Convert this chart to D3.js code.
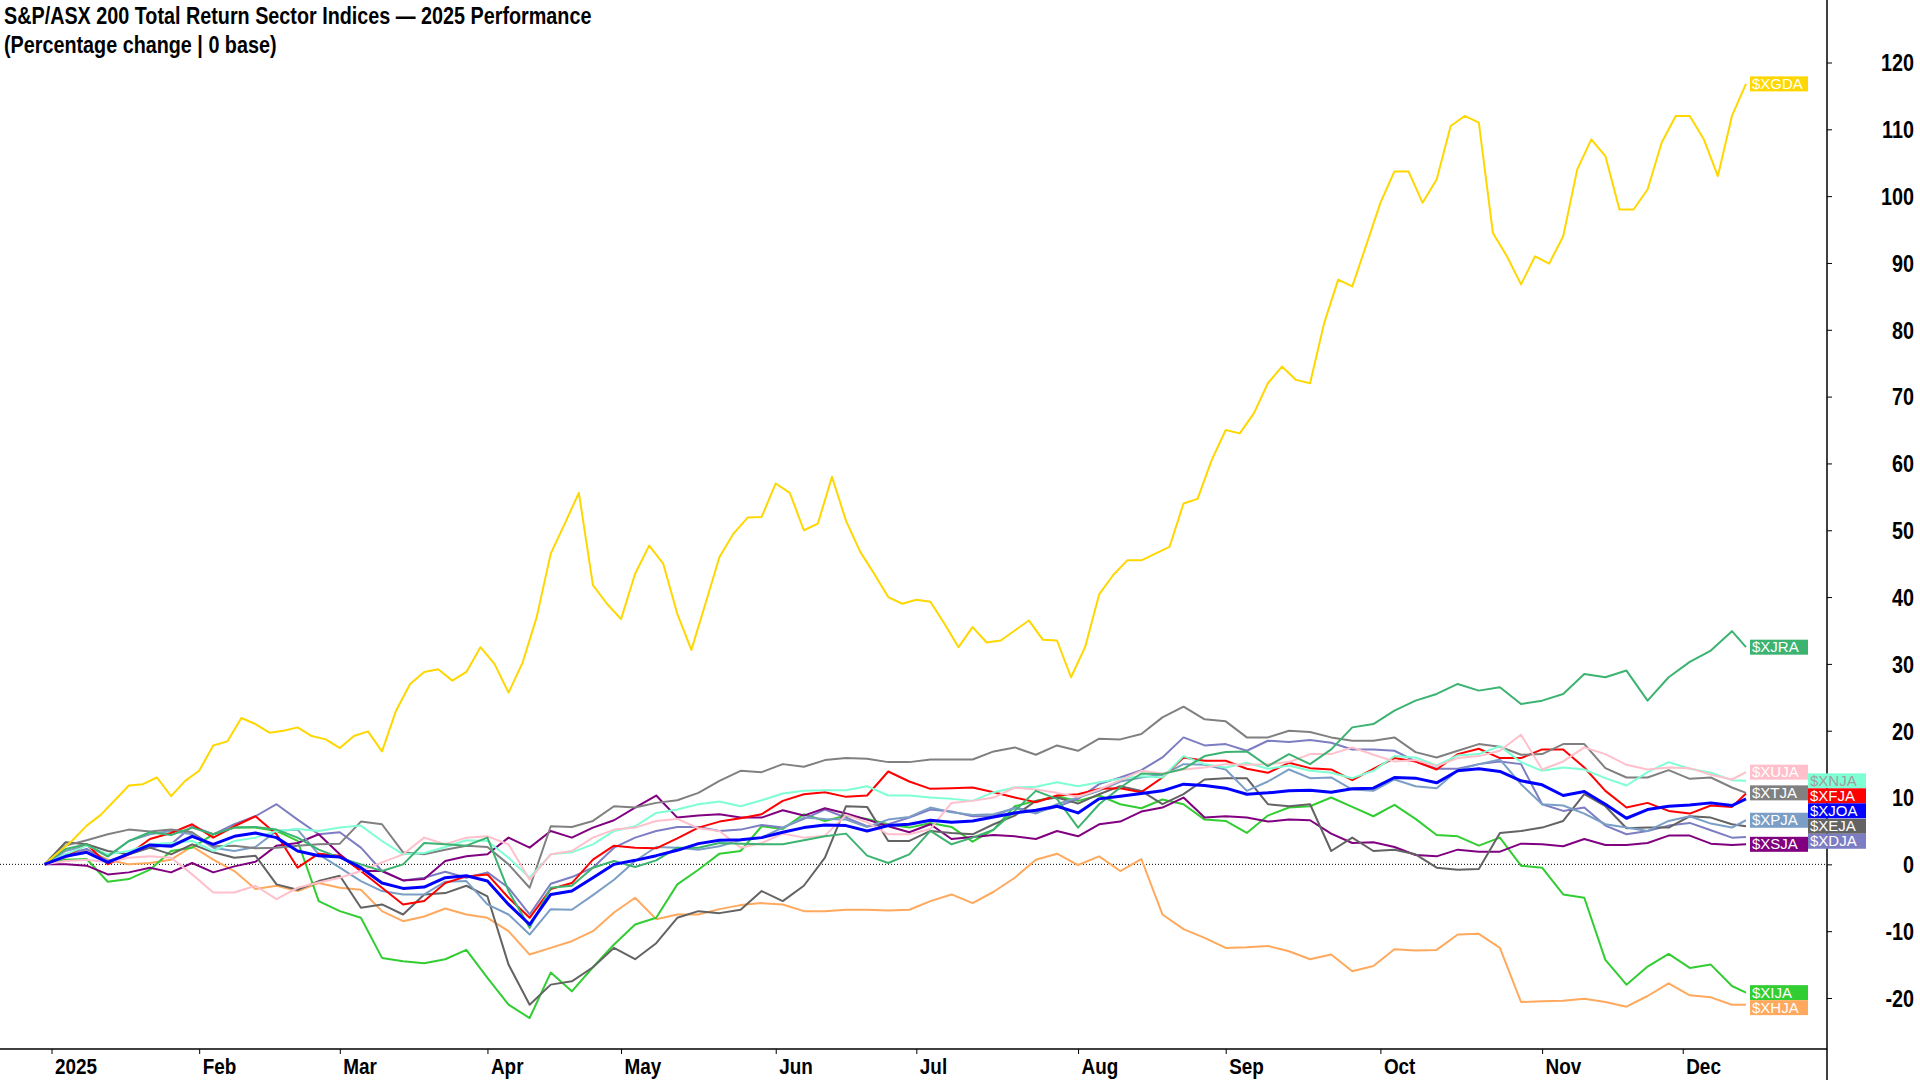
<!DOCTYPE html>
<html>
<head>
<meta charset="utf-8">
<script src="https://cdn.jsdelivr.net/npm/d3@7"></script>
<style>
  html, body { margin: 0; padding: 0; background: #fff; }
  svg { display: block; }
  text { font-family: "Liberation Sans", Arial, sans-serif; }
</style>
</head>
<body>
<svg id="chart" width="1920" height="1080"></svg>
<script>
// trading calendar (asx), day 0 is the base day
const firstDay = "2024-12-31";
const lastDay = "2025-12-12";
const asxHolidays = ["2025-01-01", "2025-01-27", "2025-04-18", "2025-04-21", "2025-04-25", "2025-06-09"];

const monthLabels = ["2025", "Feb", "Mar", "Apr", "May", "Jun", "Jul", "Aug", "Sep", "Oct", "Nov", "Dec"];
const yTicks = [-20, -10, 0, 10, 20, 30, 40, 50, 60, 70, 80, 90, 100, 110, 120];

const titleLines = ["S&P/ASX 200 Total Return Sector Indices \u2014 2025 Performance", "(Percentage change | 0 base)"];

// symbols in the order the labels get placed
const symbols = ["$XGDA", "$XJRA", "$XUJA", "$XNJA", "$XTJA", "$XFJA", "$XJOA", "$XPJA", "$XEJA", "$XSJA", "$XDJA", "$XIJA", "$XHJA"];
const colors = ["#ffd700", "#3cb371", "#ffc0cb", "#7fffd4", "#808080", "#ff0000", "#0000ff", "#7a9ec6", "#636363", "#800080", "#7d7dc3", "#32cd32", "#ffa95e"];

// gold is read every 2 trading days, the sectors every 3 (last value = last day)
const goldStep = 2;
const sectorStep = 3;

const XGDA = [
  0, 1.8, 3.6, 5.8, 7.4, 9.6, 11.8, 12, 13, 10.2,
  12.5, 14, 17.8, 18.4, 21.9, 21, 19.7, 20, 20.5, 19.2,
  18.7, 17.4, 19.2, 19.9, 16.9, 23, 27, 28.8, 29.2, 27.5,
  28.8, 32.5, 30, 25.7, 30.2, 37, 46.5, 51, 55.6, 41.8,
  39, 36.7, 43.5, 47.7, 45, 37.5, 32.1, 39, 46, 49.5,
  51.9, 52, 57, 55.6, 50, 51, 58, 51.4, 46.8, 43.5,
  40, 39, 39.6, 39.3, 36, 32.5, 35.5, 33.2, 33.5, 35,
  36.5, 33.6, 33.5, 28, 32.5, 40.4, 43.3, 45.5, 45.5, 46.5,
  47.5, 54, 54.7, 60.5, 65, 64.5, 67.5, 72, 74.5, 72.5,
  72, 81, 87.5, 86.5, 92.7, 99, 103.7, 103.7, 99, 102.5,
  110.5, 112, 111, 94.5, 91, 86.8, 91, 89.9, 94, 104,
  108.5, 106, 98, 98, 101, 108, 112, 112, 108.5, 103,
  112, 116.8
];

const XJRA = [
  0, 2.3, 3, 1.2, 3.5, 4.8, 4.4, 5.5, 4.5, 5.5,
  5.6, 5.2, 4, 2.2, 1, 0, -1, 0, 3.2, 3,
  2.8, 4, -4, -9.5, -3.5, -3.2, -0.5, 0.5, -0.4, 0.6,
  2.5, 2.5, 3.2, 3.1, 3, 3, 3.6, 4.2, 4.6, 1.3,
  0.2, 1.5, 5, 3, 4, 5.2, 8, 11, 9.8, 5.5,
  9, 11.5, 13.6, 13.5, 14.3, 16.2, 16.8, 16.9, 14.7, 16.5,
  15, 17.2, 20.5, 21, 23, 24.5, 25.5, 27, 26, 26.5,
  24, 24.5, 25.5, 28.5, 28, 29, 24.5, 28, 30.3, 32,
  34.9, 32.5
];

const XUJA = [
  0, 0.5, 0.7, 0.3, 1, 1.2, 1, -1.5, -4.2, -4.2,
  -3.2, -5.2, -3.5, -2.7, -2, -1, 0.3, 1.5, 4, 3,
  4, 4.2, 3, -2.3, 1.5, 2, 4, 5.2, 5.5, 6.5,
  6.8, 5.4, 5, 2.5, 3.2, 4.6, 4, 4.3, 7.4, 6.3,
  4.5, 4.5, 5.3, 9.2, 9.5, 10, 11.5, 11.2, 10.7, 10.1,
  11.2, 12.6, 14, 13.6, 14.2, 14.5, 15, 14.9, 15, 15.3,
  16.5, 16.5, 17.5, 16.4, 15.4, 15.6, 14.7, 15.9, 16.2, 17,
  19.4, 14.2, 15.4, 17.5, 16.5, 14.9, 14.2, 14.5, 14.4, 13.4,
  12.7, 13.8
];

const XNJA = [
  0, 1.5, 2.8, 1.5, 2, 3, 3.2, 3.5, 2, 3.5,
  4, 5, 5.3, 5, 5.5, 5.8, 3.5, 1.5, 1.7, 2.6,
  3.6, 3.5, 1, -2, 1.5, 1.8, 3, 5, 5.7, 7.7,
  8.2, 9, 9.4, 8.7, 9.6, 10.6, 11, 11.1, 11.1, 11.7,
  10.3, 10.3, 10, 9.8, 9.5, 10.8, 11.5, 11.6, 12.3, 11.7,
  12.3, 12.8, 13.2, 13, 16.2, 15, 14.5, 15.2, 14.3, 14.8,
  14, 13.7, 12.9, 14, 16.2, 16, 14.8, 16.3, 16.5, 17.7,
  15.3, 14, 14.5, 14.2, 12.9, 11.8, 13.8, 15.3, 14.3, 13.7,
  12.6, 12.5
];

const XTJA = [
  0, 2.8, 3.6, 4.5, 5.2, 4.9, 5.2, 4.8, 2.7, 2.8,
  2.4, 2.5, 2.8, 3, 3.1, 6.4, 6, 1.8, 1.5, 2.2,
  2.8, 2.6, 0, -3.5, 5.7, 5.6, 6.5, 8.7, 8.5, 9.2,
  9.6, 10.7, 12.5, 14, 13.8, 15, 14.6, 15.6, 15.9, 15.8,
  15.3, 15.3, 15.7, 15.7, 15.7, 16.9, 17.5, 16.4, 17.8, 17,
  18.8, 18.7, 19.5, 22, 23.6, 21.7, 21.4, 19, 19, 20,
  19.8, 19, 18.5, 18.5, 19, 16.8, 16, 17, 18, 17.6,
  16.4, 16.5, 18, 18, 14.4, 13, 13, 14.1, 12.8, 13,
  11.5, 10.7
];

const XFJA = [
  0, 1.2, 3, 0, 1.5, 3.8, 4.7, 6, 4, 5.7,
  7.2, 4.5, -0.5, 1.6, 1.3, -1, -3.5, -6, -5.5, -2.8,
  -1.8, -1.5, -5, -8, -3.7, -2.8, 0.7, 2.8, 2.5, 2.4,
  3.9, 5.5, 6.4, 6.9, 7.5, 9.5, 10.5, 10.8, 10.1, 10.3,
  13.9, 12.4, 11.3, 11.4, 11.5, 10.8, 10, 9.3, 10.3, 10.5,
  11.3, 11.4, 10.8, 13, 16, 15.5, 15.5, 14.3, 13.7, 15.2,
  14.4, 14.2, 12.6, 14.3, 15.9, 15.4, 14.2, 16.5, 17.3, 15.9,
  15.9, 17.2, 17.2, 14.5, 11, 8.5, 9.2, 8, 7.6, 8.8,
  8.6, 10.6
];

const XJOA = [
  0, 1.2, 1.8, 0.3, 1.6, 2.9, 2.7, 4.2, 3, 4.2,
  4.7, 4, 2, 1.3, 1.1, -0.5, -2.8, -3.6, -3.4, -2,
  -1.7, -2.5, -6, -9, -4.5, -4, -2, 0, 0.6, 1.3,
  2.1, 3.1, 3.6, 3.7, 4, 4.8, 5.5, 5.9, 5.8, 5,
  5.8, 6, 6.6, 6.3, 6.5, 7.1, 7.7, 8.1, 8.7, 7.7,
  9.8, 10.2, 10.6, 11, 12, 11.8, 11.4, 10.5, 10.7, 11,
  11.1, 10.8, 11.3, 11.4, 13, 12.9, 12.2, 14, 14.3, 13.9,
  12.5, 11.9, 10.3, 10.9, 9, 6.9, 8.2, 8.7, 8.9, 9.2,
  8.8, 9.8
];

const XPJA = [
  0, 2, 2.8, 1.2, 3.5, 4.5, 5, 4.5, 2.5, 2,
  2.6, 5, 5.2, 1.5, -0.5, -2.5, -4, -4.5, -4.5, -2.6,
  -2.5, -6, -7.5, -10.5, -6.7, -6.8, -4.6, -2.3, 0.5, 2.6,
  2.5, 2.2, 2.7, 3.6, 4, 5.5, 7, 6.8, 6.7, 5.6,
  6.7, 7.1, 8.5, 7.8, 7.4, 7.5, 8.4, 7.6, 9, 10,
  11, 12.4, 13, 13.4, 15, 14.9, 14.2, 11, 12.4, 14.2,
  12.9, 13, 11.2, 11, 12.7, 11.7, 11.4, 14.1, 15, 15.7,
  12, 9, 8.8, 7.6, 6, 5.5, 5, 6.5, 7.2, 6.1,
  5.5, 6.6
];

const XEJA = [
  0, 3.3, 3, 2, 1.5, 2.5, 1.5, 3, 1.8, 1,
  1.3, -3, -3.8, -2.5, -1.7, -6.5, -6, -7.5, -4.5, -4.3,
  -3.2, -4.8, -15, -21, -18, -17.5, -15.4, -12.5, -14.2, -11.8,
  -8, -7, -7.3, -6.8, -4, -5.5, -3.2, 1, 8.7, 8.6,
  3.5, 3.5, 5, 4.7, 4.5, 6, 7.3, 9.5, 10, 9.1,
  10.5, 11.7, 11, 9, 10.5, 12.7, 12.9, 12.9, 9, 8.7,
  9, 2, 4, 2, 2.2, 1.5, -0.5, -0.8, -0.7, 4.7,
  5, 5.5, 6.5, 10.5, 8.7, 5.4, 5.5, 5.5, 7.2, 7,
  6, 5.7
];

const XSJA = [
  0, 0, -0.2, -1.5, -1.2, -0.5, -1.2, 0.2, -1.2, -0.3,
  0.4, 2.8, 3.2, 4.5, 1.5, -1, -1, -2.4, -2.2, 0.5,
  1.2, 1.5, 4, 2.5, 5, 4, 5.5, 6.6, 8.5, 10.3,
  7, 7.3, 7.5, 7, 7, 8.1, 7.3, 8.4, 7.6, 6.7,
  5.7, 4.8, 6, 3.8, 4.1, 4.4, 4.2, 3.8, 5, 4.2,
  6, 6.4, 7.9, 8.5, 10, 7, 7.2, 7, 6.4, 6.7,
  6.6, 4.6, 3.2, 3.3, 2.6, 1.4, 1.2, 2.2, 1.9, 1.9,
  3.1, 3, 2.7, 3.8, 2.9, 2.9, 3.2, 4.3, 4.3, 3.1,
  2.9, 3
];

const XDJA = [
  0, 1.5, 2.3, 0.5, 1.5, 2.5, 3, 5.7, 4.5, 6,
  7.2, 9, 6.7, 4.5, 4.8, 2.5, -1, -2.4, -2, -1.1,
  -2, -1.2, -3.5, -7.5, -2.9, -1.9, -0.5, 2.5, 4, 5,
  5.6, 5.6, 5, 5.2, 5.9, 5.5, 6.8, 8.2, 7, 5.7,
  6, 7, 8.2, 7.9, 7.2, 7.2, 8.5, 7.8, 8.6, 9.8,
  12, 13, 14.1, 16, 19, 17.8, 18, 17, 18.5, 18.3,
  18.6, 18.2, 17.2, 17.2, 17, 15.4, 14.3, 14.3, 15, 15.4,
  15, 9, 8, 8.5, 5.8, 4.5, 5, 5.8, 6.2, 5.1,
  4, 4.1
];

const XIJA = [
  0, 0.7, 0.8, -2.6, -2.2, -0.8, 2, 2.5, 4.5, 5.5,
  5.5, 5, 3.5, -5.5, -7, -8, -14, -14.5, -14.8, -14.2,
  -12.8, -17, -21, -23, -16.2, -19, -15.4, -12, -9, -8,
  -3, -0.8, 1.6, 2, 5.7, 5.3, 7.5, 6.5, 7.3, 6.8,
  6, 5.5, 6.2, 5.6, 3.4, 5.2, 8.7, 9.5, 10.2, 9.5,
  10.3, 9, 8.4, 9.7, 9, 6.7, 6.5, 4.7, 7.3, 8.5,
  8.7, 10, 8.6, 7.2, 8.9, 6.8, 4.4, 4.2, 2.8, 4,
  -0.2, -0.5, -4.5, -5, -14.3, -18, -15.3, -13.4, -15.5, -15,
  -18.2, -19.2
];

const XHJA = [
  0, 1, 2.2, 0.7, 0, 0.2, 0.7, 2.7, 0.7, -1,
  -3.7, -3.2, -4, -2.8, -3.5, -3.8, -7, -8.5, -7.8, -6.6,
  -7.5, -8, -10, -13.5, -12.5, -11.5, -10, -7.2, -5, -8.2,
  -7.5, -7.5, -6.7, -6.1, -5.8, -6, -7, -7, -6.8, -6.8,
  -6.9, -6.8, -5.5, -4.5, -5.8, -4.1, -2, 0.7, 1.6, -0.1,
  1.2, -1, 0.8, -7.5, -9.7, -11, -12.5, -12.4, -12.2, -13,
  -14.2, -13.5, -16, -15.2, -12.7, -12.9, -12.8, -10.5, -10.4, -12.5,
  -20.6, -20.5, -20.4, -20.1, -20.6, -21.3, -19.7, -17.8, -19.6, -19.9,
  -21, -21
];

const seriesValues = [XGDA, XJRA, XUJA, XNJA, XTJA, XFJA, XJOA, XPJA, XEJA, XSJA, XDJA, XIJA, XHJA];

// ---- build ----
const svg = d3.select("#chart");
const W = 1920, H = 1080;
const axisX = 1827;      // right value axis
const bottomY = 1049;    // date axis
const narrow = 0.86;     // the chart font is a condensed bold

// list the asx trading days
function tradingdays() {
  const fmt = d3.utcFormat("%Y-%m-%d");
  const all = d3.utcDay.range(new Date(firstDay + "T00:00:00Z"), d3.utcDay.offset(new Date(lastDay + "T00:00:00Z"), 1));
  return all.filter(d => d.getUTCDay() !== 0 && d.getUTCDay() !== 6 && !asxHolidays.includes(fmt(d)));
}
const days = tradingdays();

// index of the first trading day of each month
const monthStarts = [];
days.forEach((d, i) => {
  if (i > 0 && d.getUTCMonth() !== days[i - 1].getUTCMonth()) monthStarts.push(i);
});

const x = d3.scaleLinear().domain([0, days.length - 1]).range([44.5, 1746]);
const y = d3.scaleLinear().domain([-20, 120]).range([998, 62.5]);

// one object per symbol with its points
const series = symbols.map((s, k) => {
  const step = s === "$XGDA" ? goldStep : sectorStep;
  const vals = seriesValues[k];
  return {
    name: s,
    color: colors[k],
    points: vals.map((v, j) => ({ i: Math.min(j * step, days.length - 1), v: v })),
    last: vals[vals.length - 1]
  };
});

// title
svg.append("g")
  .attr("transform", `translate(4,0) scale(${narrow},1)`)
  .selectAll("text")
  .data(titleLines)
  .join("text")
  .attr("x", 0)
  .attr("y", (d, i) => 24 + i * 29)
  .attr("font-size", "23px")
  .attr("font-weight", "bold")
  .attr("fill", "#000")
  .text(d => d);

// zero line
svg.append("line")
  .attr("x1", 0).attr("x2", axisX)
  .attr("y1", y(0)).attr("y2", y(0))
  .attr("stroke", "#000")
  .attr("stroke-width", 1)
  .attr("stroke-dasharray", "1,2");

// lines, blue index drawn last so it stays on top
const line = d3.line().x(d => x(d.i)).y(d => y(d.v));
const drawOrder = series.slice().reverse().sort((a, b) => (a.name === "$XJOA") - (b.name === "$XJOA"));
svg.append("g")
  .selectAll("path")
  .data(drawOrder)
  .join("path")
  .attr("d", d => line(d.points))
  .attr("fill", "none")
  .attr("stroke", d => d.color)
  .attr("stroke-width", d => d.name === "$XJOA" ? 3 : 2)
  .attr("stroke-linejoin", "round");

// value axis on the right
const yAxis = svg.append("g")
  .attr("transform", `translate(${axisX},0)`)
  .call(d3.axisRight(y).tickValues(yTicks).tickSize(5).tickFormat(d => String(d)));
yAxis.select(".domain").remove();
yAxis.selectAll(".tick line").attr("stroke", "#000");
yAxis.selectAll(".tick text")
  .attr("x", 87 / narrow)
  .attr("transform", `scale(${narrow},1)`)
  .attr("text-anchor", "end")
  .attr("dy", "0.36em")
  .attr("font-size", "23px")
  .attr("font-weight", "bold")
  .attr("fill", "#000")
  .style("font-family", null);
svg.append("line")
  .attr("x1", axisX).attr("x2", axisX)
  .attr("y1", 0).attr("y2", H)
  .attr("stroke", "#000").attr("stroke-width", 1.5);

// date axis
const xAxis = svg.append("g")
  .attr("transform", `translate(0,${bottomY})`)
  .call(d3.axisBottom(x).tickValues(monthStarts).tickSize(5).tickFormat((d, k) => monthLabels[k]));
xAxis.select(".domain").remove();
xAxis.selectAll(".tick line").attr("stroke", "#000");
xAxis.selectAll(".tick text")
  .attr("x", 3 / narrow)
  .attr("y", 9)
  .attr("transform", `scale(${narrow},1)`)
  .attr("text-anchor", "start")
  .attr("font-size", "22px")
  .attr("font-weight", "bold")
  .attr("fill", "#000")
  .style("font-family", null);
svg.append("line")
  .attr("x1", 0).attr("x2", axisX)
  .attr("y1", bottomY).attr("y2", bottomY)
  .attr("stroke", "#000").attr("stroke-width", 1.5);

// end labels: first column unless it would need a real shift, then second column
function placelabels(list) {
  const h = 15, maxshift = 4;
  const cols = [[], []];
  function freeslot(col, top) {
    let t = top, moved = true;
    while (moved) {
      moved = false;
      for (const b of col) {
        if (t < b + h && t + h > b) { t = b + h; moved = true; }
      }
    }
    return t;
  }
  list.forEach(s => {
    const top = y(s.last) - h / 2;
    const t1 = freeslot(cols[0], top);
    if (t1 - top <= maxshift) {
      cols[0].push(t1); s.col = 0; s.top = t1;
    } else {
      const t2 = freeslot(cols[1], top);
      cols[1].push(t2); s.col = 1; s.top = t2;
    }
  });
}
placelabels(series);

const labelW = 58, labelH = 15, labelX = [1750, 1808];
const labels = svg.append("g")
  .selectAll("g")
  .data(series)
  .join("g")
  .attr("transform", d => `translate(${labelX[d.col]},${d.top})`);
labels.append("rect")
  .attr("width", labelW)
  .attr("height", labelH)
  .attr("fill", d => d.color);
labels.append("text")
  .attr("x", 2)
  .attr("y", 12.5)
  .attr("font-size", "15px")
  .attr("fill", d => d3.lab(d.color).l > 90 ? "#a0a0a0" : "#fff")
  .text(d => d.name);
</script>
</body>
</html>
